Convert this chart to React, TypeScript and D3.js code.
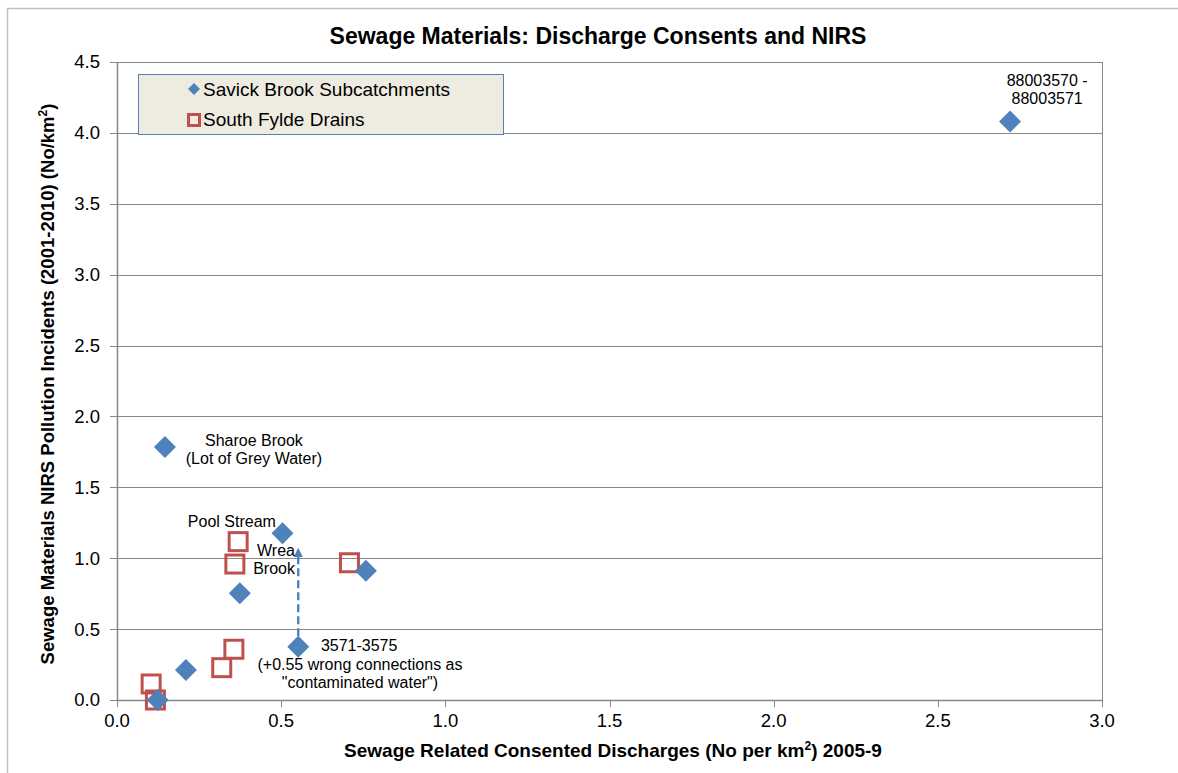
import React from "react";
import * as d3 from "d3";

const W = 1178;
const H = 773;

const xTicks = [0, 0.5, 1.0, 1.5, 2.0, 2.5, 3.0];
const yTicks = [0, 0.5, 1.0, 1.5, 2.0, 2.5, 3.0, 3.5, 4.0, 4.5];

// Savick Brook Subcatchments (blue diamonds)
const savickX = [2.72, 0.146, 0.504, 0.758, 0.374, 0.552, 0.21, 0.124];
const savickY = [4.08, 1.785, 1.176, 0.912, 0.753, 0.376, 0.212, 0.0];

// South Fylde Drains (red squares)
const fyldeX = [0.369, 0.359, 0.708, 0.356, 0.319, 0.104, 0.117];
const fyldeY = [1.117, 0.959, 0.968, 0.358, 0.228, 0.113, 0.0];

// Dashed arrow showing +0.55 wrong connections
const arrowX = 0.552;
const arrowY = [0.45, 1.04];

const annotations = [
  { x: 2.833, y: 4.373, lines: ["88003570 -", "88003571"], anchor: "middle" },
  { x: 0.417, y: 1.834, lines: ["Sharoe Brook", "(Lot of Grey Water)"], anchor: "middle" },
  { x: 0.484, y: 1.2625, lines: ["Pool Stream"], anchor: "end" },
  { x: 0.542, y: 1.058, lines: ["Wrea", "Brook"], anchor: "end" },
  { x: 0.621, y: 0.383, lines: ["3571-3575"], anchor: "start" },
  { x: 0.74, y: 0.254, lines: ["(+0.55 wrong connections as", "\"contaminated water\")"], anchor: "middle" },
];

const legendLabels = ["Savick Brook Subcatchments", "South Fylde Drains"];

const BLUE = "#4F81BD";
const RED = "#C0504D";
const GRID = "#888888";
const FONT = "'Liberation Sans', Arial, sans-serif";

export default function App() {
  const x = d3.scaleLinear().domain([0, 3]).range([117, 1102]);
  const y = d3.scaleLinear().domain([0, 4.5]).range([700, 62]);
  const dpath = (r: number) => `M0,${-r}L${r},0L0,${r}L${-r},0Z`;

  return (
    <svg
      width={W}
      height={H}
      style={{ position: "absolute", left: 0, top: 0, background: "#fff" }}
      fontFamily={FONT}
    >
      {/* outer frame */}
      <rect x={7.5} y={8.5} width={W + 20} height={H + 20} fill="#fff" stroke="#c0c0c0" strokeWidth={1.5} />

      {/* title */}
      <text x={598} y={44} textAnchor="middle" fontSize={23} fontWeight="bold" fill="#000">
        Sewage Materials: Discharge Consents and NIRS
      </text>

      {/* gridlines */}
      {yTicks.map((t) => (
        <line key={"g" + t} x1={x(0)} x2={x(3)} y1={Math.round(y(t)) + 0.5} y2={Math.round(y(t)) + 0.5} stroke={GRID} strokeWidth={1} />
      ))}
      {/* plot border right */}
      <line x1={Math.round(x(3)) + 0.5} x2={Math.round(x(3)) + 0.5} y1={y(4.5)} y2={y(0)} stroke={GRID} strokeWidth={1} />
      {/* axes */}
      <line x1={Math.round(x(0)) + 0.5} x2={Math.round(x(0)) + 0.5} y1={y(4.5)} y2={y(0)} stroke={GRID} strokeWidth={1.5} />
      <line x1={x(0)} x2={x(3)} y1={Math.round(y(0)) + 0.5} y2={Math.round(y(0)) + 0.5} stroke={GRID} strokeWidth={1.5} />
      {yTicks.map((t) => (
        <g key={"yt" + t}>
          <line x1={x(0) - 7} x2={x(0)} y1={Math.round(y(t)) + 0.5} y2={Math.round(y(t)) + 0.5} stroke={GRID} />
          <text x={100} y={y(t)} dy="0.35em" textAnchor="end" fontSize={18.5} fill="#000">
            {t.toFixed(1)}
          </text>
        </g>
      ))}
      {xTicks.map((t) => (
        <g key={"xt" + t}>
          <line x1={Math.round(x(t)) + 0.5} x2={Math.round(x(t)) + 0.5} y1={y(0)} y2={y(0) + 7} stroke={GRID} />
          <text x={x(t)} y={727} textAnchor="middle" fontSize={18.5} fill="#000">
            {t.toFixed(1)}
          </text>
        </g>
      ))}

      {/* axis titles */}
      <text x={613} y={757} textAnchor="middle" fontSize={19} fontWeight="bold" fill="#000">
        Sewage Related Consented Discharges (No per km<tspan dy={-7} fontSize={12}>2</tspan><tspan dy={7}>) 2005-9</tspan>
      </text>
      <text transform={`translate(54,384) rotate(-90)`} textAnchor="middle" fontSize={18.5} fontWeight="bold" fill="#000">
        Sewage Materials NIRS Pollution Incidents (2001-2010) (No/km<tspan dy={-7} fontSize={12}>2</tspan><tspan dy={7}>)</tspan>
      </text>

      {/* dashed arrow */}
      <defs>
        <marker id="arr" viewBox="0 0 10 10" refX={5} refY={5} markerWidth={4} markerHeight={4} orient="auto">
          <path d="M0,0L10,5L0,10Z" fill={BLUE} />
        </marker>
      </defs>
      <line
        x1={x(arrowX)}
        x2={x(arrowX)}
        y1={y(arrowY[0])}
        y2={y(arrowY[1])}
        stroke={BLUE}
        strokeWidth={2.4}
        strokeDasharray="8,4"
        markerEnd="url(#arr)"
      />

      {/* South Fylde squares */}
      {fyldeX.map((v, i) => (
        <rect key={"f" + i} x={x(v) - 9} y={y(fyldeY[i]) - 9} width={18} height={18} fill="none" stroke={RED} strokeWidth={3} />
      ))}

      {/* Savick diamonds */}
      {savickX.map((v, i) => (
        <path key={"s" + i} d={dpath(11)} transform={`translate(${x(v)},${y(savickY[i])})`} fill={BLUE} />
      ))}

      {/* annotations */}
      {annotations.map((a, i) => (
        <text key={"a" + i} x={x(a.x)} y={y(a.y)} textAnchor={a.anchor as any} fontSize={16} fill="#000">
          {a.lines.map((l, j) => (
            <tspan key={j} x={x(a.x)} dy={j === 0 ? "0.35em" : 18.5}>
              {l}
            </tspan>
          ))}
        </text>
      ))}

      {/* legend */}
      <rect x={138.5} y={74.5} width={365} height={60} fill="#EEECE1" stroke={BLUE} strokeWidth={1} />
      <path d={dpath(6)} transform="translate(194,89)" fill={BLUE} />
      <rect x={188.5} y={114.5} width={11} height={11} fill="none" stroke={RED} strokeWidth={3} />
      {legendLabels.map((l, i) => (
        <text key={"l" + i} x={203} y={89 + i * 30} dy="0.35em" fontSize={19} fill="#000">
          {l}
        </text>
      ))}
    </svg>
  );
}
